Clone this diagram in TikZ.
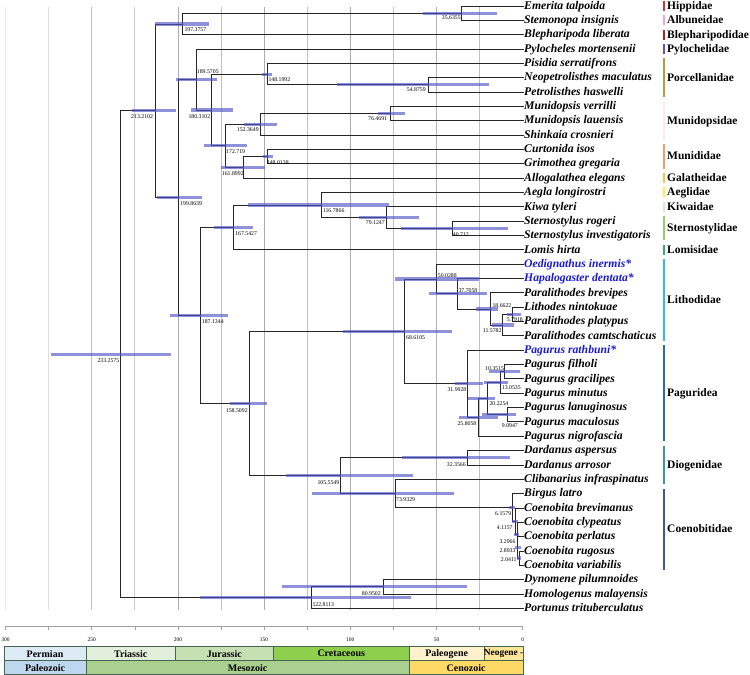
\documentclass[tikz,border=0pt]{standalone}
\usepackage{fontspec}
\setmainfont{Liberation Serif}
\usepackage{xcolor}
\usetikzlibrary{positioning}
\definecolor{hpdblue}{RGB}{80,88,200}
\definecolor{taxblue}{RGB}{25,25,210}
\definecolor{perline}{RGB}{70,100,80}
\definecolor{cHipp}{RGB}{214,48,48}
\definecolor{cAlbu}{RGB}{240,160,230}
\definecolor{cBlep}{RGB}{176,32,40}
\definecolor{cPylo}{RGB}{110,80,170}
\definecolor{cPorc}{RGB}{196,150,50}
\definecolor{cMunp}{RGB}{250,236,228}
\definecolor{cMuni}{RGB}{240,160,100}
\definecolor{cGala}{RGB}{250,195,70}
\definecolor{cAegl}{RGB}{248,240,80}
\definecolor{cKiwa}{RGB}{218,230,208}
\definecolor{cSter}{RGB}{145,208,100}
\definecolor{cLomi}{RGB}{50,175,110}
\definecolor{cLith}{RGB}{50,185,230}
\definecolor{cPagu}{RGB}{40,110,170}
\definecolor{cDiog}{RGB}{60,150,175}
\definecolor{cCoen}{RGB}{60,90,150}
\definecolor{permian}{HTML}{DDEBF7}
\definecolor{paleozoic}{HTML}{BDD7EE}
\definecolor{triassic}{HTML}{E2EFDA}
\definecolor{jurassic}{HTML}{C6E0B4}
\definecolor{cretaceous}{HTML}{8ED04E}
\definecolor{mesozoic}{HTML}{A9D08E}
\definecolor{paleogene}{HTML}{FFF2CC}
\definecolor{neogene}{HTML}{FFE699}
\definecolor{cenozoic}{HTML}{FFD966}

\begin{document}
\begin{tikzpicture}[x=1pt, y=-1pt,
  br/.style={draw=black!85, line width=0.75pt},
  hpd/.style={draw=hpdblue, line width=3.2pt, draw opacity=0.65},
  gridln/.style={line width=0.8pt},
  taxon/.style={anchor=west, inner sep=0pt, text height=6.5pt, text depth=0pt, font=\fontsize{11.7}{12}\selectfont\bfseries\itshape},
  fam/.style={anchor=west, inner sep=0pt, text height=6.8pt, text depth=0pt, font=\fontsize{11.5}{12}\selectfont\bfseries},
  age/.style={anchor=west, inner sep=0pt, text height=3.8pt, text depth=0pt, font=\fontsize{5.8}{6}\selectfont},
  axlab/.style={inner sep=0pt, font=\fontsize{5.5}{6}\selectfont},
  percell/.style={draw=perline, line width=0.6pt, minimum height=14pt, inner sep=0pt, font=\fontsize{10}{11}\selectfont\bfseries}
]
\useasboundingbox (0,0) rectangle (750,675);

% time grid
\foreach \gx/\gc in {5.5/18, 48.6/25, 91.7/50, 134.8/40, 177.9/65, 221.0/50, 264.1/65, 307.2/50, 350.3/65, 393.4/50, 436.5/60, 479.6/50}
  \draw[gridln, draw=gray!\gc] (\gx,7) -- (\gx,610);

% taxa
\foreach \c/\nm [count=\i] in {black/Emerita talpoida, black/Stemonopa insignis, black/Blepharipoda liberata,
  black/Pylocheles mortensenii, black/Pisidia serratifrons, black/Neopetrolisthes maculatus,
  black/Petrolisthes haswelli, black/Munidopsis verrilli, black/Munidopsis lauensis,
  black/Shinkaia crosnieri, black/Curtonida isos, black/Grimothea gregaria,
  black/Allogalathea elegans, black/Aegla longirostri, black/Kiwa tyleri,
  black/Sternostylus rogeri, black/Sternostylus investigatoris, black/Lomis hirta,
  taxblue/Oedignathus inermis*, taxblue/Hapalogaster dentata*, black/Paralithodes brevipes,
  black/Lithodes nintokuae, black/Paralithodes platypus, black/Paralithodes camtschaticus,
  taxblue/Pagurus rathbuni*, black/Pagurus filholi, black/Pagurus gracilipes,
  black/Pagurus minutus, black/Pagurus lanuginosus, black/Pagurus maculosus,
  black/Pagurus nigrofascia, black/Dardanus aspersus, black/Dardanus arrosor,
  black/Clibanarius infraspinatus, black/Birgus latro, black/Coenobita brevimanus,
  black/Coenobita clypeatus, black/Coenobita perlatus, black/Coenobita rugosus,
  black/Coenobita variabilis, black/Dynomene pilumnoides, black/Homologenus malayensis,
  black/Portunus trituberculatus}
  \node[taxon, text=\c] (t\i) at (524,{6+14.34*(\i-1)}) {\nm};

% internal nodes
\coordinate (n233) at (120.56,354.12);
\coordinate (n213) at (155.12,110.70);
\coordinate (n197) at (182.42,23.93);
\coordinate (n35) at (461.26,13.17);
\coordinate (n199) at (178.13,197.46);
\coordinate (n189) at (195.88,79.50);
\coordinate (n180) at (211.85,109.97);
\coordinate (n148a) at (267.20,74.12);
\coordinate (n54) at (428.09,84.87);
\coordinate (n172) at (224.93,145.82);
\coordinate (n152) at (260.02,124.31);
\coordinate (n76) at (390.87,113.55);
\coordinate (n161) at (243.59,167.33);
\coordinate (n148b) at (267.52,156.57);
\coordinate (n187) at (200.08,315.41);
\coordinate (n167) at (233.86,227.38);
\coordinate (n116) at (321.36,204.97);
\coordinate (n79) at (386.29,217.52);
\coordinate (n40) at (452.51,228.27);
\coordinate (n158) at (249.43,403.44);
\coordinate (n68) at (404.42,331.34);
\coordinate (n50) at (436.45,278.91);
\coordinate (n37) at (457.70,293.70);
\coordinate (n18) at (490.53,308.94);
\coordinate (n11) at (502.74,325.07);
\coordinate (n5) at (512.72,314.31);
\coordinate (n31) at (467.54,383.77);
\coordinate (n25) at (478.21,417.38);
\coordinate (n20) at (487.83,398.56);
\coordinate (n13) at (500.20,382.43);
\coordinate (n10) at (504.85,371.67);
\coordinate (n9) at (507.02,414.69);
\coordinate (n105) at (340.72,475.53);
\coordinate (n32) at (466.92,457.71);
\coordinate (n73) at (395.24,493.34);
\coordinate (n6) at (512.08,507.46);
\coordinate (n4) at (515.60,521.35);
\coordinate (n3) at (517.02,534.79);
\coordinate (n2b) at (517.71,547.34);
\coordinate (n2a) at (519.18,558.09);
\coordinate (n122) at (310.97,597.53);
\coordinate (n80) at (383.14,586.77);

% branches
\draw[br] (n233) |- (n213) (n233) |- (n122);
\draw[br] (n213) |- (n197) (n213) |- (n199);
\draw[br] (n197) |- (n35) (n197) |- (t3.west);
\draw[br] (n35) |- (t1.west) (n35) |- (t2.west);
\draw[br] (n199) |- (n189) (n199) |- (n187);
\draw[br] (n189) |- (t4.west) (n189) |- (n180);
\draw[br] (n180) |- (n148a) (n180) |- (n172);
\draw[br] (n148a) |- (t5.west) (n148a) |- (n54);
\draw[br] (n54) |- (t6.west) (n54) |- (t7.west);
\draw[br] (n172) |- (n152) (n172) |- (n161);
\draw[br] (n152) |- (n76) (n152) |- (t10.west);
\draw[br] (n76) |- (t8.west) (n76) |- (t9.west);
\draw[br] (n161) |- (n148b) (n161) |- (t13.west);
\draw[br] (n148b) |- (t11.west) (n148b) |- (t12.west);
\draw[br] (n187) |- (n167) (n187) |- (n158);
\draw[br] (n167) |- (n116) (n167) |- (t18.west);
\draw[br] (n116) |- (t14.west) (n116) |- (n79);
\draw[br] (n79) |- (t15.west) (n79) |- (n40);
\draw[br] (n40) |- (t16.west) (n40) |- (t17.west);
\draw[br] (n158) |- (n68) (n158) |- (n105);
\draw[br] (n68) |- (n50) (n68) |- (n31);
\draw[br] (n50) |- (t19.west) (n50) |- (n37);
\draw[br] (n37) |- (t20.west) (n37) |- (n18);
\draw[br] (n18) |- (t21.west) (n18) |- (n11);
\draw[br] (n11) |- (n5) (n11) |- (t24.west);
\draw[br] (n5) |- (t22.west) (n5) |- (t23.west);
\draw[br] (n31) |- (t25.west) (n31) |- (n25);
\draw[br] (n25) |- (n20) (n25) |- (t31.west);
\draw[br] (n20) |- (n13) (n20) |- (n9);
\draw[br] (n13) |- (n10) (n13) |- (t28.west);
\draw[br] (n10) |- (t26.west) (n10) |- (t27.west);
\draw[br] (n9) |- (t29.west) (n9) |- (t30.west);
\draw[br] (n105) |- (n32) (n105) |- (n73);
\draw[br] (n32) |- (t32.west) (n32) |- (t33.west);
\draw[br] (n73) |- (t34.west) (n73) |- (n6);
\draw[br] (n6) |- (t35.west) (n6) |- (n4);
\draw[br] (n4) |- (t36.west) (n4) |- (n3);
\draw[br] (n3) |- (t37.west) (n3) |- (n2b);
\draw[br] (n2b) |- (t38.west) (n2b) |- (n2a);
\draw[br] (n2a) |- (t39.west) (n2a) |- (t40.west);
\draw[br] (n122) |- (n80) (n122) |- (t43.west);
\draw[br] (n80) |- (t41.west) (n80) |- (t42.west);

% 95% HPD bars
\foreach \a/\b/\n in {51/170.7/n233, 132/176/n213, 155/209/n197, 423.3/496.7/n35,
  157/202/n199, 176/217.3/n189, 191/233.3/n180, 262.3/272.3/n148a, 337.3/489/n54,
  204.3/247.3/n172, 244/276.7/n152, 378.3/405/n76, 221.3/265/n161, 263.3/272.7/n148b,
  170/228.3/n187, 214.3/252.7/n167, 248.3/389.3/n116, 359.3/419.3/n79, 401/507.7/n40,
  230/266.7/n158, 343.3/451.7/n68, 395/479/n50, 429.3/486.7/n37, 476/498.3/n18,
  491.7/514/n11, 507.3/520.7/n5, 455/483.3/n31, 459.3/498.3/n25, 468.3/495/n20,
  484.3/508/n13, 489/519.5/n10, 482/516/n9, 286/412.7/n105, 401.7/510/n32,
  311.7/454.3/n73, 509.3/515/n6, 512/518.3/n4, 514.3/519.3/n3, 515/520.7/n2b,
  516.7/521.3/n2a, 281.7/466.7/n80, 200/410.7/n122}
  \draw[hpd] (\a,0 |- \n) -- (\b,0 |- \n);

% node ages
\node[age] (a233) at (97.3,360.7) {233.2575};
\node[age] (a213) at (131,116.7) {213.2102};
\node[age] (a197) at (184.3,29.3) {197.3757};
\node[age] (a35) at (441.7,17.3) {35.6355};
\node[age] (a199) at (180,203.3) {199.8639};
\node[age] (a189) at (196.7,71.7) {189.5705};
\node[age] (a180) at (188.3,116.7) {180.3102};
\node[age] (a148a) at (268.3,80) {148.1992};
\node[age] (a54) at (406.7,89.3) {54.8759};
\node[age] (a172) at (226,151.7) {172.719};
\node[age] (a152) at (236.7,130) {152.3649};
\node[age] (a76) at (368,118.7) {76.4691};
\node[age] (a148b) at (266.7,162.7) {148.0138};
\node[age] (a161) at (221.7,173.3) {161.8992};
\node[age] (a187) at (201.7,321.7) {187.1344};
\node[age] (a167) at (235,233.3) {167.5427};
\node[age] (a116) at (322.7,210.7) {116.7866};
\node[age] (a79) at (365.7,222.7) {79.1247};
\node[age] (a40) at (452.7,235) {40.712};
\node[age] (a158) at (225.7,411) {158.5092};
\node[age] (a68) at (406,337.3) {68.6105};
\node[age] (a50) at (437.7,275.7) {50.0288};
\node[age] (a37) at (458.3,290.7) {37.7058};
\node[age] (a18) at (492.3,306) {18.6622};
\node[age] (a5) at (506.7,320) {5.7918};
\node[age] (a11) at (482.7,331) {11.5782};
\node[age] (a31) at (447.3,390) {31.9928};
\node[age] (a10) at (485,368.3) {10.3515};
\node[age] (a13) at (501.7,387.7) {13.0535};
\node[age] (a20) at (489.3,403.3) {20.2254};
\node[age] (a25) at (457.3,423.3) {25.8058};
\node[age] (a9) at (501.7,426) {9.0947};
\node[age] (a105) at (317.3,482.7) {105.5549};
\node[age] (a32) at (446.7,465) {32.3566};
\node[age] (a73) at (396,500) {73.9329};
\node[age] (a6) at (495,513.3) {6.1579};
\node[age] (a4) at (496.7,527.3) {4.1157};
\node[age] (a3) at (499.3,541.7) {3.2966};
\node[age] (a2b) at (499.3,550.7) {2.8933};
\node[age] (a2a) at (500.7,560) {2.0411};
\node[age] (a80) at (361.7,593.3) {80.9502};
\node[age] (a122) at (312.3,604.3) {122.8113};

% families
\foreach \ya/\yb/\c/\nm [count=\i] in {1/11/cHipp/Hippidae, 15.3/25.3/cAlbu/Albuneidae,
  29.7/39.7/cBlep/Blepharipodidae, 44/54/cPylo/Pylochelidae, 58.4/97/cPorc/Porcellanidae,
  101.4/140/cMunp/Munidopsidae, 144.4/168.7/cMuni/Munididae, 173.1/183.1/cGala/Galatheidae,
  187.4/197.4/cAegl/Aeglidae, 201.8/211.8/cKiwa/Kiwaidae, 216.1/240.4/cSter/Sternostylidae,
  244.8/254.8/cLomi/Lomisidae, 259.1/340.8/cLith/Lithodidae, 345.2/441.2/cPagu/Paguridea,
  445.5/484.2/cDiog/Diogenidae, 488.6/570.3/cCoen/Coenobitidae}
{
  \draw[draw=\c, line width=2.2pt] (664.3,\ya) -- (664.3,\yb);
  \node[fam] (f\i) at (667,{(\ya+\yb)/2}) {\nm};
}

% time axis
\draw[gray!75, line width=0.6pt] (5.5,626) -- (523,626);
\foreach \tx in {5.5, 48.6, 91.7, 134.8, 177.9, 221.0, 264.1, 307.2, 350.3, 393.4, 436.5, 479.6, 522.7}
  \draw[gray!75, line width=0.6pt] (\tx,626) -- (\tx,630);
\foreach \tx/\tl in {5.5/300, 91.7/250, 177.9/200, 264.1/150, 350.3/100, 436.5/50, 522.7/0}
  \node[axlab] (x\tl) at (\tx,640) {\tl};

% geological periods
\node[percell, fill=permian, minimum width=82pt] (perm) at (45,653.7) {Permian};
\node[percell, fill=triassic, minimum width=89.3pt] (tria) at (130.65,653.7) {Triassic};
\node[percell, fill=jurassic, minimum width=98pt] (jura) at (224.3,653.7) {Jurassic};
\node[percell, fill=cretaceous, minimum width=136pt] (cret) at (341.3,653.7) {Cretaceous};
\node[percell, fill=paleogene, minimum width=74.7pt] (paleog) at (446.65,653.7) {Paleogene};
\node[percell, fill=neogene, minimum width=39pt] (neog) at (503.5,653.7) {};
\node[anchor=west, inner sep=0pt, font=\fontsize{9.4}{10}\selectfont\bfseries] (neogt) at (neog.west) {Neogene -};
\node[percell, fill=paleozoic, minimum width=82pt] (paleoz) at (45,667.7) {Paleozoic};
\node[percell, fill=mesozoic, minimum width=323.3pt] (mesoz) at (247.65,667.7) {Mesozoic};
\node[percell, fill=cenozoic, minimum width=113.7pt] (cenoz) at (466.15,667.7) {Cenozoic};
\end{tikzpicture}
\end{document}
